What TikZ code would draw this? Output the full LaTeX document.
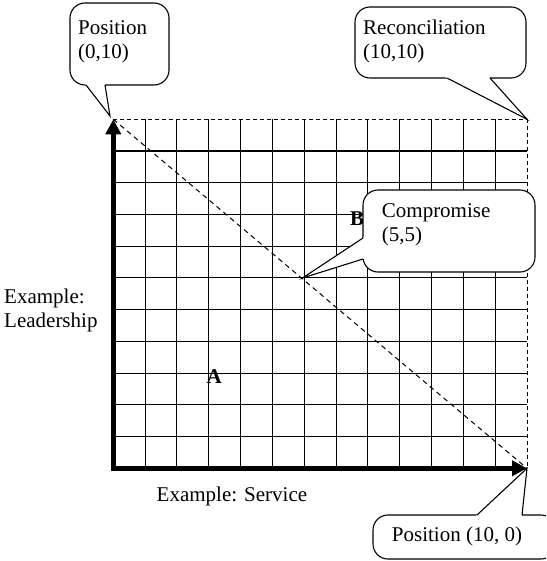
\documentclass[tikz,border=0pt]{standalone}
\usepackage{fontspec}
\setmainfont{Liberation Serif}
\usetikzlibrary{arrows.meta,calc}
\begin{document}
\begin{tikzpicture}[x=1pt,y=-1pt,
  gridline/.style={line width=1.1pt},
  axis/.style={line width=4.5pt, line join=miter, {Triangle[length=15pt,width=15pt]}-{Triangle[length=15pt,width=15pt]}},
  edgedash/.style={line width=1pt, dash pattern=on 4pt off 3pt},
  diagdash/.style={line width=1pt, dash pattern=on 5pt off 4pt},
  bubble/.style={draw, fill=white, line width=1.1pt, rounded corners=15pt},
  leg/.style={line width=1.1pt, line join=miter},
  lbl/.style={inner sep=0pt, anchor=base west, align=left, font=\fontsize{21}{24}\selectfont},
  boldlbl/.style={lbl, font=\fontsize{21}{24}\selectfont\bfseries},
]
\useasboundingbox (0,0) rectangle (546,561);
\clip (0,0) rectangle (546,561);
% grid corners
\coordinate (O) at (113.3,468.3);
\coordinate (Ytop) at (113.3,119.3);
\coordinate (Xend) at (527,468.3);
\coordinate (TR) at (527,119.3);
% grid
\foreach \k in {1,...,12} {
  \draw[gridline] (113.3+\k*31.823,119.3) -- (113.3+\k*31.823,468.3);
}
\foreach \k in {1,...,10} {
  \draw[gridline] (113.3,119.3+\k*31.727) -- (527,119.3+\k*31.727);
}
\draw[edgedash] (Ytop) -- (TR) -- (Xend);
\draw[diagdash] (Ytop) -- (Xend);
\draw[axis] (Ytop) -- (O) -- (Xend);
% labels
\node[boldlbl] (A) at (206.5,383) {A};
\node[boldlbl] (B) at (350,225) {B};
\node[lbl] (service) at (156.5,501.7) {Example: Service};
\node[lbl] (leader) at (4,327) {Example:\\Leadership};
% callout: Position (0,10)
\coordinate (T1) at (110,116);
\coordinate (L1a) at (86,85);
\coordinate (L1b) at (105,85);
\draw[bubble] (70,3) rectangle (169,85);
\fill[white] ($(T1)!1.25!(L1a)$) -- (T1) -- ($(T1)!1.25!(L1b)$) -- cycle;
\draw[leg] (L1a) -- (T1) -- (L1b);
\node[lbl] (p010) at (78,59) {Position\\(0,10)};
% callout: Reconciliation (10,10)
\coordinate (L2a) at (447,78);
\coordinate (L2b) at (490,78);
\draw[bubble] (355,7) rectangle (526,78);
\fill[white] ($(TR)!1.1!(L2a)$) -- (TR) -- ($(TR)!1.1!(L2b)$) -- cycle;
\draw[leg] (L2a) -- (TR) -- (L2b);
\node[lbl] (p1010) at (363,59) {Reconciliation\\(10,10)};
% callout: Compromise (5,5)
\coordinate (T3) at (302.5,278);
\coordinate (L3a) at (363,238);
\coordinate (L3b) at (363,259);
\draw[bubble] (363,190) rectangle (535,272);
\fill[white] ($(T3)!1.05!(L3a)$) -- (T3) -- ($(T3)!1.05!(L3b)$) -- cycle;
\draw[leg] (L3a) -- (T3) -- (L3b);
\node[lbl] (p55) at (381.7,241) {Compromise\\(5,5)};
% callout: Position (10, 0)
\coordinate (L4a) at (477,515);
\coordinate (L4b) at (522,515);
\draw[bubble] (373,515) rectangle (556,559);
\fill[white] ($(Xend)!1.1!(L4a)$) -- (Xend) -- ($(Xend)!1.1!(L4b)$) -- cycle;
\draw[leg] (L4a) -- (Xend) -- (L4b);
\node[lbl] (p100) at (391.7,541.7) {Position (10, 0)};
\end{tikzpicture}
\end{document}
